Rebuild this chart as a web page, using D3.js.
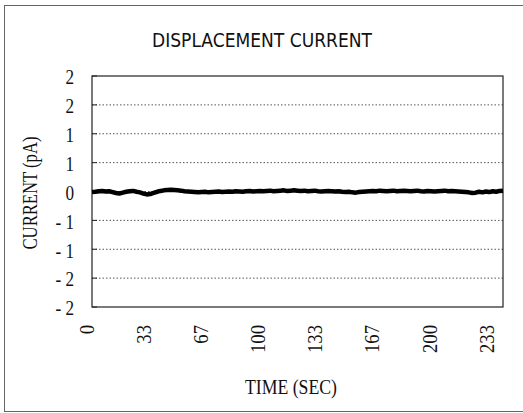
<!DOCTYPE html>
<html><head><meta charset="utf-8">
<script src="https://cdn.jsdelivr.net/npm/d3@7"></script>
<style>html,body{margin:0;padding:0;background:#fff;}svg{display:block;}</style>
</head><body>
<svg id="c" width="523" height="413"></svg>
<script>
const title = "DISPLACEMENT CURRENT";
const xTitle = "TIME (SEC)";
const yTitle = "CURRENT (pA)";
const yTicks = [2, 1.5, 1, 0.5, 0, -0.5, -1, -1.5, -2];
const yTickLabels = ["2","2","1","1","0","- 1","- 1","- 2","- 2"];
const xTicks = [0, 33.33, 66.67, 100, 133.33, 166.67, 200, 233.33];
const xTickLabels = ["0","33","67","100","133","167","200","233"];
const timeStep = 2;
const current = [
 -0.01,-0.005,0.005,0.01,0,0.005,-0.01,-0.025,-0.035,-0.02,-0.005,
 0.005,0.01,-0.005,-0.015,-0.035,-0.05,-0.045,-0.025,-0.005,0.01,
 0.02,0.025,0.03,0.025,0.02,0.015,0.005,0,-0.005,-0.01,
 -0.015,-0.01,-0.005,-0.015,-0.01,-0.005,0,-0.01,-0.005,0,
 -0.005,0.005,0,-0.005,0.005,0.01,0,0.005,0.01,0.005,
 0.01,0.015,0.005,0.01,0.015,0.02,0.01,0.015,0.02,0.015,
 0.01,0.015,0.005,0.01,0.015,0.005,0,0.005,0.01,0.005,
 0,0.005,-0.005,-0.01,-0.005,-0.015,-0.02,-0.01,-0.005,0,
 0.005,0.01,0.005,0.015,0.01,0.005,0.01,0.015,0.005,0.01,
 0.015,0.01,0.005,0.01,0.015,0.005,0,0.01,0.005,0,
 0.005,0.01,0.015,0.005,0.01,0.005,0,-0.005,-0.01,-0.015,
 -0.025,-0.02,-0.005,-0.015,0,-0.01,0.005,-0.005,0.01,0.015
];

const svg = d3.select("#c");
const L = 92, R = 503, T = 76, B = 307;
const x = d3.scaleLinear().domain([0, 240]).range([L, R]);
const y = d3.scaleLinear().domain([-2, 2]).range([B, T]);
const serif = "'Liberation Serif','Times New Roman',serif";

// outer frame
svg.append("rect").attr("x",4.5).attr("y",5.5).attr("width",540).attr("height",406)
  .attr("fill","none").attr("stroke","#666").attr("stroke-width",1);

// title
svg.append("text").attr("x",262).attr("y",47).attr("text-anchor","middle")
  .attr("font-family","'DejaVu Sans Condensed','DejaVu Sans',sans-serif").attr("font-size",19)
  .attr("textLength",220).attr("lengthAdjust","spacing")
  .attr("fill","#111").text(title);

// gridlines
svg.append("g").selectAll("line").data(yTicks.filter(v => v > -2 && v < 2)).join("line")
  .attr("x1",L).attr("x2",R).attr("y1",d=>y(d)).attr("y2",d=>y(d))
  .attr("stroke","#555").attr("stroke-width",1).attr("stroke-dasharray","1.5,2");

// y axis
const yAxis = d3.axisLeft(y).tickValues(yTicks).tickSize(0).tickFormat((d,i)=>yTickLabels[i]);
const gy = svg.append("g").attr("transform",`translate(${L},0)`).call(yAxis);
gy.select(".domain").remove();
gy.selectAll(".tick text").attr("x",0).attr("dy",null)
  .attr("dominant-baseline","central")
  .attr("font-family",serif).attr("font-size",22).attr("fill","#111")
  .attr("transform", "translate(-18,0) scale(0.78,1)");
// inward ticks
svg.append("g").selectAll("line").data(yTicks).join("line")
  .attr("x1",L).attr("x2",L+5).attr("y1",d=>y(d)).attr("y2",d=>y(d))
  .attr("stroke","#222").attr("stroke-width",1);

// x axis labels
const xAxis = d3.axisBottom(x).tickValues(xTicks).tickSize(0).tickFormat((d,i)=>xTickLabels[i]);
const gx = svg.append("g").attr("transform",`translate(0,${B})`).call(xAxis);
gx.select(".domain").remove();
gx.selectAll(".tick text").attr("y",0).attr("dy",null).attr("x",0)
  .attr("text-anchor","end").attr("font-family",serif).attr("font-size",22).attr("fill","#111")
  .attr("transform","translate(1.5,18) rotate(-90) scale(0.85,1)");

// plot border
svg.append("rect").attr("x",L).attr("y",T).attr("width",R-L).attr("height",B-T)
  .attr("fill","none").attr("stroke","#222").attr("stroke-width",1.2);

// data line
const line = d3.line().x((d,i)=>x(i*timeStep)).y(d=>y(d)).curve(d3.curveLinear);
svg.append("path").datum(current).attr("d",line).attr("fill","none")
  .attr("stroke","#000").attr("stroke-width",4.5).attr("stroke-linejoin","round");

// axis titles
svg.append("text").attr("transform","translate(37,193) rotate(-90)").attr("text-anchor","middle")
  .attr("font-family",serif).attr("font-size",21).attr("textLength",113).attr("lengthAdjust","spacingAndGlyphs")
  .attr("fill","#111").text(yTitle);
svg.append("text").attr("x",291).attr("y",394).attr("text-anchor","middle")
  .attr("font-family",serif).attr("font-size",21).attr("textLength",92).attr("lengthAdjust","spacingAndGlyphs")
  .attr("fill","#111").text(xTitle);
</script>
</body></html>
